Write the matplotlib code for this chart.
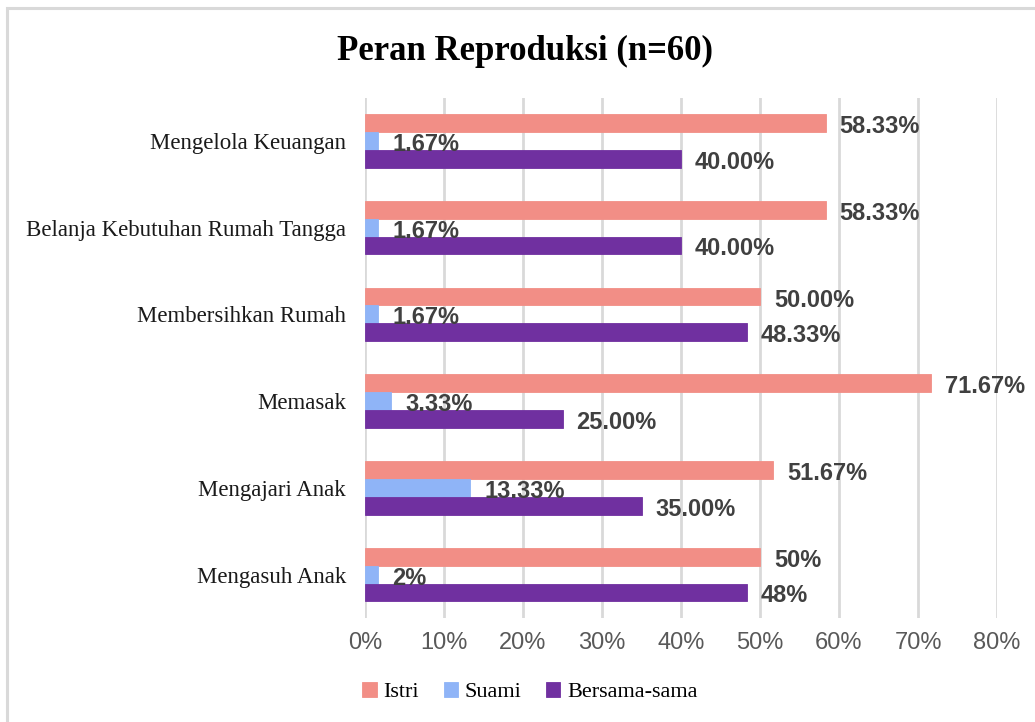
import matplotlib
matplotlib.use("Agg")
import matplotlib.pyplot as plt
import numpy as np
from matplotlib.patches import Rectangle

categories = ["Mengasuh Anak", "Mengajari Anak", "Memasak", "Membersihkan Rumah",
              "Belanja Kebutuhan Rumah Tangga", "Mengelola Keuangan"]
istri = [50.00, 51.67, 71.67, 50.00, 58.33, 58.33]
suami = [1.67, 13.33, 3.33, 1.67, 1.67, 1.67]
bersama = [48.33, 35.00, 25.00, 48.33, 40.00, 40.00]
istri_labels = ["50%", "51.67%", "71.67%", "50.00%", "58.33%", "58.33%"]
suami_labels = ["2%", "13.33%", "3.33%", "1.67%", "1.67%", "1.67%"]
bersama_labels = ["48%", "35.00%", "25.00%", "48.33%", "40.00%", "40.00%"]
series_names = ["Istri", "Suami", "Bersama-sama"]
xticks = [0, 10, 20, 30, 40, 50, 60, 70, 80]
title = "Peran Reproduksi (n=60)"

colors = ["#F28E86", "#8FB4F7", "#7030A0"]

W, H = 1035, 722
fig = plt.figure(figsize=(W / 100, H / 100), dpi=100)
fig.patch.set_facecolor("white")

# outer frame
fig.patches.append(Rectangle((7 / W, 0 - 0.01), 1.05, (H - 8) / H + 0.01,
                             transform=fig.transFigure, fill=False,
                             edgecolor="#d9d9d9", linewidth=2.2))

left, right = 365 / W, 997 / W
top, bottom = 97.5 / H, 618 / H
ax = fig.add_axes([left, 1 - bottom, right - left, bottom - top])

y = np.arange(len(categories))
h = 0.205
data = [istri, suami, bersama]
labels = [istri_labels, suami_labels, bersama_labels]
offsets = [h, 0, -h]
for vals, labs, off, c, name in zip(data, labels, offsets, colors, series_names):
    bars = ax.barh(y + off, vals, height=h, color=c, label=name,
                   edgecolor=c, linewidth=0.6)
    for b, lab in zip(bars, labs):
        ax.annotate(lab, (b.get_width(), b.get_y() + b.get_height() / 2),
                    xytext=(10, -2.5), textcoords="offset points",
                    ha="left", va="center", fontsize=17, fontweight="bold",
                    color="#404040", family="Liberation Sans")

ax.set_xlim(0, 80)
ax.set_ylim(-0.5, len(categories) - 0.5)
ax.set_xticks(xticks)
ax.set_xticklabels([f"{t}%" for t in xticks], family="Liberation Sans",
                   fontsize=17, color="#595959")
ax.set_yticks(y)
ax.set_yticklabels(categories, family="Liberation Serif", fontsize=16.5,
                   color="#1a1a1a")
ax.tick_params(axis="both", length=0)
ax.tick_params(axis="x", pad=10)
ax.tick_params(axis="y", pad=13.5)
for s in ax.spines.values():
    s.set_visible(False)
ax.grid(axis="x", color="#d9d9d9", linewidth=2)
ax.set_axisbelow(True)

fig.text(525 / W, 1 - 51 / H, title, ha="center", va="center",
         family="Liberation Serif", fontweight="bold", fontsize=25, color="black")

handles, labs = ax.get_legend_handles_labels()
leg = fig.legend(handles, labs, loc="center", bbox_to_anchor=(530 / W, 1 - 692 / H),
                 ncol=3, frameon=False, prop={"family": "Liberation Serif", "size": 16},
                 handlelength=0.65, handleheight=0.65, handletextpad=0.3,
                 columnspacing=1.1)

fig.savefig("out.png", dpi=100, facecolor="white")
